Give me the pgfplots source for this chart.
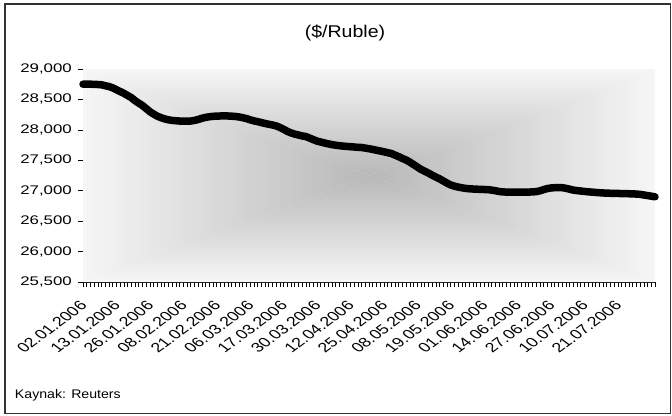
\documentclass[border=0pt]{standalone}
\usepackage{fontspec}
\setmainfont{Liberation Sans}
\usepackage{pgfplots}
\pgfplotsset{compat=1.18}
\usepackage{pgfplotstable}

% Daily USD/RUB rate, business days from 02.01.2006 (idx 0) to 04.08.2006 (idx 154)
\pgfplotstableread{
idx val
0 28750
1 28752
2 28750
3 28748
4 28745
5 28740
6 28725
7 28712
8 28690
9 28660
10 28630
11 28600
12 28565
13 28530
14 28480
15 28440
16 28400
17 28350
18 28300
19 28260
20 28225
21 28200
22 28180
23 28165
24 28155
25 28150
26 28145
27 28143
28 28142
29 28145
30 28155
31 28170
32 28190
33 28205
34 28215
35 28222
36 28226
37 28228
38 28230
39 28228
40 28225
41 28220
42 28212
43 28200
44 28185
45 28165
46 28148
47 28135
48 28120
49 28105
50 28092
51 28080
52 28065
53 28040
54 28010
55 27975
56 27950
57 27930
58 27915
59 27900
60 27890
61 27865
62 27840
63 27815
64 27800
65 27785
66 27770
67 27758
68 27748
69 27740
70 27733
71 27728
72 27723
73 27718
74 27713
75 27710
76 27700
77 27690
78 27678
79 27665
80 27653
81 27640
82 27625
83 27612
84 27585
85 27560
86 27530
87 27505
88 27470
89 27430
90 27390
91 27350
92 27320
93 27290
94 27255
95 27225
96 27195
97 27160
98 27125
99 27095
100 27075
101 27060
102 27048
103 27038
104 27032
105 27028
106 27025
107 27022
108 27020
109 27018
110 27010
111 27000
112 26988
113 26980
114 26978
115 26976
116 26975
117 26975
118 26976
119 26977
120 26978
121 26980
122 26985
123 26998
124 27018
125 27035
126 27045
127 27050
128 27052
129 27050
130 27040
131 27025
132 27010
133 27002
134 26995
135 26988
136 26982
137 26977
138 26972
139 26967
140 26963
141 26960
142 26958
143 26956
144 26955
145 26953
146 26952
147 26950
148 26948
149 26945
150 26940
151 26930
152 26920
153 26910
154 26900
}\rubtable

\definecolor{edgegray}{RGB}{246,246,246}
\definecolor{midgray}{RGB}{224,224,224}
\definecolor{centergray}{RGB}{184,184,184}
\definecolor{framegray}{RGB}{50,50,50}

\newcommand{\lblfont}{\fontsize{12.5}{14}\selectfont}

\begin{document}
\begin{tikzpicture}[x=1pt,y=1pt]
\useasboundingbox (0,0) rectangle (672,415);
\draw[framegray, line width=1.2pt] (5,1.5) rectangle (670.5,411);

\node[font=\fontsize{17}{19}\selectfont, xscale=1.15] at (345,382) {(\$/Ruble)};
\node[anchor=west, font=\lblfont, xscale=1.13] at (11,20) {Kaynak: Reuters};

\begin{axis}[
  at={(83pt,133pt)}, anchor=south west,
  scale only axis, width=572pt, height=213pt,
  xmin=0, xmax=154, ymin=25500, ymax=29000,
  clip=false,
  axis x line*=bottom, axis y line*=left,
  axis line style={-, black!85, line width=0.8pt},
  tick align=outside,
  major tick length=5pt, minor tick length=5pt,
  tick style={black, line width=0.6pt},
  ytick={25500,26000,...,29000},
  scaled y ticks=false,
  /pgf/number format/1000 sep={,},
  /pgf/number format/assume math mode=true,
  yticklabel style={font=\lblfont, anchor=east, xscale=1.35, xshift=-1pt},
  xtick={0,9,...,144},
  minor xtick={0,...,154},
  xticklabels={02.01.2006,13.01.2006,26.01.2006,08.02.2006,21.02.2006,06.03.2006,17.03.2006,30.03.2006,12.04.2006,25.04.2006,08.05.2006,19.05.2006,01.06.2006,14.06.2006,27.06.2006,10.07.2006,21.07.2006},
  % text turned by 45 degrees, then widened horizontally by 1.35
  xticklabel style={font=\fontsize{13.3}{15}\selectfont, anchor=north east,
    yshift=-8pt, xshift=-4pt,
    cm={0.9546,0.7071,-0.9546,0.7071,(0,0)}},
]
% rectangular centre gradient of the plot area, built from four triangles
\begin{scope}
  \clip (rel axis cs:0,1) -- (rel axis cs:1,1) -- (rel axis cs:0.5,0.5) -- cycle;
  \shade[top color=edgegray, middle color=midgray, bottom color=centergray]
    (rel axis cs:0,0.5) rectangle (rel axis cs:1,1);
\end{scope}
\begin{scope}
  \clip (rel axis cs:0,0) -- (rel axis cs:1,0) -- (rel axis cs:0.5,0.5) -- cycle;
  \shade[top color=centergray, middle color=midgray, bottom color=edgegray]
    (rel axis cs:0,0) rectangle (rel axis cs:1,0.5);
\end{scope}
\begin{scope}
  \clip (rel axis cs:0,0) -- (rel axis cs:0,1) -- (rel axis cs:0.5,0.5) -- cycle;
  \shade[left color=edgegray, middle color=midgray, right color=centergray]
    (rel axis cs:0,0) rectangle (rel axis cs:0.5,1);
\end{scope}
\begin{scope}
  \clip (rel axis cs:1,0) -- (rel axis cs:1,1) -- (rel axis cs:0.5,0.5) -- cycle;
  \shade[left color=centergray, middle color=midgray, right color=edgegray]
    (rel axis cs:0.5,0) rectangle (rel axis cs:1,1);
\end{scope}

\addplot[black, line width=7.5pt, line join=round, line cap=round]
  table[x=idx, y=val] {\rubtable};
\end{axis}
\end{tikzpicture}
\end{document}
